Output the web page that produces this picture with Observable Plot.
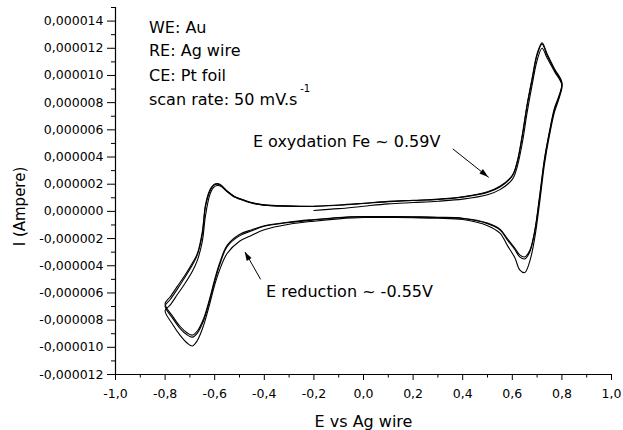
<!DOCTYPE html>
<html><head><meta charset="utf-8">
<script src="https://cdn.jsdelivr.net/npm/d3@7"></script>
<script src="https://cdn.jsdelivr.net/npm/@observablehq/plot@0.6"></script>
<style>body{margin:0;background:#fff}</style>
</head><body><div id="chart"></div>
<script>
// Potential (V vs Ag wire) along one cycle: -0.2 -> 0.8 -> -0.8 -> -0.2
const potential = [
  -0.2, -0.1, 0.0, 0.1, 0.2, 0.3, 0.4, 0.5, 0.55, 0.6, 0.62, 0.64, 0.66, 0.68, 0.70, 0.72, 0.74, 0.77, 0.80,
  0.79, 0.77, 0.75, 0.73, 0.71, 0.69, 0.67, 0.65, 0.63, 0.61, 0.58, 0.55, 0.5, 0.4, 0.3, 0.2, 0.1, 0.0, -0.1, -0.2, -0.3, -0.4, -0.45, -0.5, -0.55, -0.58, -0.6, -0.62, -0.645, -0.67, -0.69, -0.71, -0.74, -0.77, -0.80,
  -0.78, -0.75, -0.72, -0.69, -0.67, -0.65, -0.637, -0.62, -0.605, -0.59, -0.575, -0.55, -0.52, -0.5, -0.45, -0.4, -0.3, -0.2
];
// Current in microampere (1e-6 A) for each cycle
const cycle1 = [
  0.07, 0.2, 0.38, 0.55, 0.65, 0.75, 0.9, 1.22, 1.6, 2.35, 3.3, 5.0, 7.3, 9.3, 11.1, 12.0, 11.3, 10.3, 9.3,
  8.4, 7.3, 5.6, 3.5, 0.6, -2.0, -3.7, -4.5, -4.3, -3.4, -2.5, -1.6, -1.05, -0.6, -0.5, -0.47, -0.45, -0.45, -0.55, -0.72, -0.95, -1.35, -1.75, -2.2, -3.1, -4.3, -5.4, -6.8, -8.4, -9.5, -9.9, -9.7, -9.1, -8.3, -7.3,
  -6.9, -6.1, -5.3, -4.4, -3.6, -2.2, -0.3, 1.2, 1.75, 1.9, 1.85, 1.45, 1.05, 0.9, 0.6, 0.45, 0.38, 0.36
];
const cycle2 = [
  0.37, 0.45, 0.58, 0.72, 0.8, 0.88, 1.05, 1.4, 1.8, 2.6, 3.6, 5.5, 7.8, 9.7, 11.5, 12.3, 11.5, 10.4, 9.4,
  8.5, 7.5, 5.8, 3.8, 1.0, -1.5, -2.9, -3.35, -3.2, -2.7, -2.0, -1.3, -0.85, -0.5, -0.43, -0.4, -0.38, -0.38, -0.45, -0.6, -0.78, -1.05, -1.35, -1.7, -2.5, -3.8, -5.0, -6.4, -7.9, -8.8, -9.1, -8.95, -8.45, -7.7, -6.8,
  -6.3, -5.5, -4.7, -3.8, -3.1, -1.5, 0.5, 1.55, 1.95, 2.05, 1.95, 1.5, 1.1, 0.95, 0.65, 0.48, 0.4, 0.37
];
const cycle3 = [
  0.38, 0.47, 0.6, 0.74, 0.82, 0.9, 1.08, 1.45, 1.85, 2.65, 3.7, 5.6, 7.9, 9.8, 11.6, 12.4, 11.6, 10.5, 9.5,
  8.6, 7.6, 5.9, 3.9, 1.1, -1.5, -3.0, -3.5, -3.35, -2.8, -2.1, -1.35, -0.9, -0.52, -0.45, -0.42, -0.4, -0.4, -0.47, -0.63, -0.82, -1.1, -1.42, -1.8, -2.6, -3.95, -5.15, -6.55, -8.05, -8.95, -9.25, -9.1, -8.6, -7.85, -6.95,
  -6.5, -5.7, -4.85, -3.95, -3.2, -1.7, 0.35, 1.45, 1.9, 2.0, 1.9, 1.48, 1.08, 0.93, 0.63, 0.46, 0.39, 0.36
];

const xTicks = [-1, -0.8, -0.6, -0.4, -0.2, 0, 0.2, 0.4, 0.6, 0.8, 1];
const xTickLabels = ["-1,0", "-0,8", "-0,6", "-0,4", "-0,2", "0,0", "0,2", "0,4", "0,6", "0,8", "1,0"];
const xMinor = [-0.9, -0.7, -0.5, -0.3, -0.1, 0.1, 0.3, 0.5, 0.7, 0.9];
const yTicks = [-12, -10, -8, -6, -4, -2, 0, 2, 4, 6, 8, 10, 12, 14];
const yTickLabels = ["-0,000012", "-0,000010", "-0,000008", "-0,000006", "-0,000004", "-0,000002", "0,000000",
  "0,000002", "0,000004", "0,000006", "0,000008", "0,000010", "0,000012", "0,000014"];
const yMinor = [-11, -9, -7, -5, -3, -1, 1, 3, 5, 7, 9, 11, 13, 15];

const xLabel = "E vs Ag wire";
const yLabel = "I (Ampere)";
const infoLines = ["WE: Au", "RE: Ag wire", "CE: Pt foil", "scan rate: 50 mV.s"];
const notes = ["E oxydation Fe ~ 0.59V", "E reduction ~ -0.55V"];

// annotation anchors in data units
const infoAnchors = [[-0.865, 13.5], [-0.865, 11.8], [-0.865, 10.0], [-0.865, 8.2]];
const supAnchor = [-0.255, 9.0];
const noteAnchors = [[-0.446, 5.1], [-0.393, -5.95]];
const yLabelAnchor = [-1, 0.36];
const arrowSpecs = [[0.36, 4.6, 0.505, 2.5], [-0.415, -5.0, -0.477, -3.0]];

const rows = [];
[cycle1, cycle2, cycle3].forEach((c, k) => potential.forEach((e, i) => rows.push({E: e, I: c[i], cycle: k + 1})));

const chart = Plot.plot({
  width: 623, height: 430,
  marginLeft: 115, marginRight: 12, marginTop: 7, marginBottom: 56,
  style: {fontFamily: "DejaVu Sans", fontSize: "12.5px", color: "#000", background: "#fff"},
  x: {domain: [-1, 1], axis: null},
  y: {domain: [-12, 15], axis: null},
  marks: [
    Plot.axisX(xTicks, {tickSize: 6, tickPadding: 9, tickFormat: d => xTickLabels[xTicks.indexOf(d)], label: null, stroke: "#000"}),
    Plot.axisX(xMinor, {tickSize: 3.5, tickFormat: () => "", label: null, stroke: "#000"}),
    Plot.axisY(yTicks, {tickSize: 8, tickPadding: 4, tickFormat: d => yTickLabels[yTicks.indexOf(d)], label: null, stroke: "#000"}),
    Plot.axisY(yMinor, {tickSize: 4, tickFormat: () => "", label: null, stroke: "#000"}),
    Plot.ruleX([-1], {y1: -12, y2: 15, stroke: "#000", strokeWidth: 1.2}),
    Plot.ruleY([-12], {x1: -1, x2: 1, stroke: "#000", strokeWidth: 1.2}),
    Plot.line(rows, {x: "E", y: "I", z: "cycle", stroke: "#000", strokeWidth: 1.1, curve: "catmull-rom"}),
    Plot.text([xLabel], {frameAnchor: "bottom", lineAnchor: "middle", textAnchor: "middle", dy: 47, fontSize: 16, fill: "#000"}),
    Plot.text([yLabel], {x: () => yLabelAnchor[0], y: () => yLabelAnchor[1], text: d => d, dx: -95, rotate: -90, textAnchor: "middle", lineAnchor: "middle", fontSize: 15, fill: "#000"}),
    Plot.text(infoLines, {x: (d, i) => infoAnchors[i][0], y: (d, i) => infoAnchors[i][1], text: d => d, textAnchor: "start", fontSize: 16, fill: "#000"}),
    Plot.text(["-1"], {x: () => supAnchor[0], y: () => supAnchor[1], text: d => d, textAnchor: "start", fontSize: 10, fill: "#000"}),
    Plot.text(notes, {x: (d, i) => noteAnchors[i][0], y: (d, i) => noteAnchors[i][1], text: d => d, textAnchor: "start", fontSize: 16, fill: "#000"}),
    Plot.link(arrowSpecs, {x1: d => d[0], y1: d => d[1], x2: d => d[2], y2: d => d[3], stroke: "#000", strokeWidth: 1})
  ]
});
// filled arrowheads placed through the plot's own scales
const sx = chart.scale("x"), sy = chart.scale("y");
const heads = d3.select(chart).append("g").attr("aria-label", "arrowheads");
arrowSpecs.forEach(([a, b, c, d]) => {
  const x1 = sx.apply(a), y1 = sy.apply(b), x2 = sx.apply(c), y2 = sy.apply(d);
  const len = Math.hypot(x2 - x1, y2 - y1), ux = (x2 - x1) / len, uy = (y2 - y1) / len;
  const L = 9, W = 2.8;
  const bx = x2 - ux * L, by = y2 - uy * L;
  heads.append("polygon")
    .attr("points", [[x2, y2], [bx - uy * W, by + ux * W], [bx + uy * W, by - ux * W]].map(p => p.join(",")).join(" "))
    .attr("fill", "#000");
});
document.getElementById("chart").appendChild(chart);
</script>
</body></html>
